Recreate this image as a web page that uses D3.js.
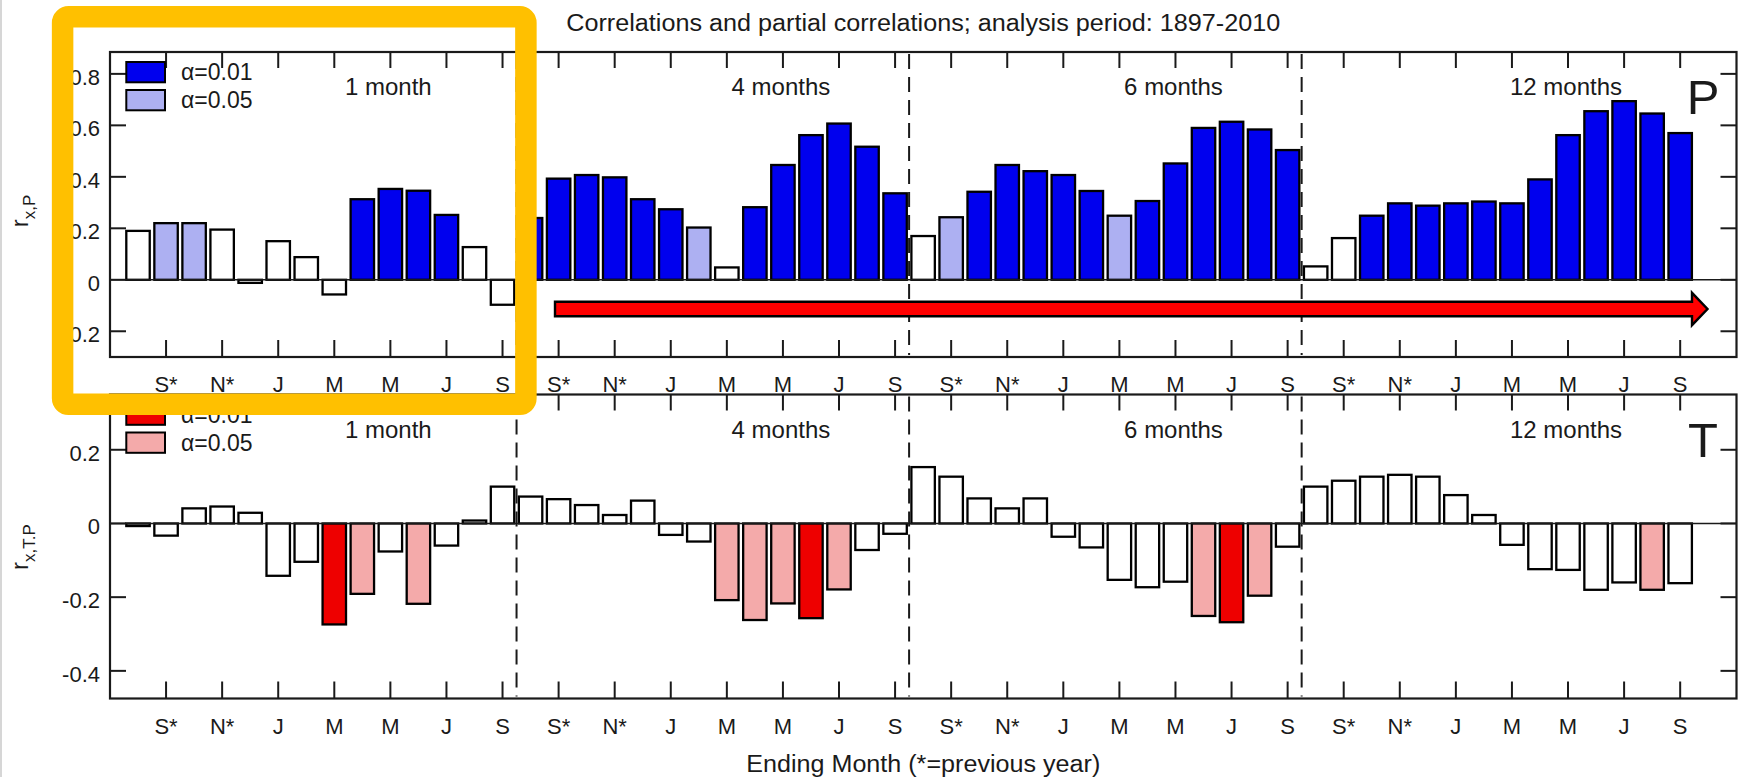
<!DOCTYPE html>
<html>
<head>
<meta charset="utf-8">
<script src="https://cdn.jsdelivr.net/npm/d3@7"></script>
<style>
  html, body { margin: 0; padding: 0; background: #ffffff; }
  svg { display: block; font-family: "Liberation Sans", Arial, Helvetica, sans-serif; }
</style>
</head>
<body>
<svg id="chart" width="1740" height="777"></svg>
<script>
// ---- data -------------------------------------------------------------
const monthLabels  = ["A*", "S*", "O*", "N*", "D*", "J", "F", "M", "A", "M", "J", "J", "A", "S"];
const windowLabels = ["1 month", "4 months", "6 months", "12 months"];
const yTicksP = [0.8, 0.6, 0.4, 0.2, 0, -0.2];
const yTicksT = [0.2, 0, -0.2, -0.4];
const legendLabels = ["\u03b1=0.01", "\u03b1=0.05"];

// correlations with precipitation, r(x,P), per aggregation window
const precip1  = [0.19, 0.22, 0.22, 0.195, -0.012, 0.15, 0.088, -0.057, 0.313, 0.353, 0.346, 0.252, 0.127, -0.097];
const precip4  = [0.24, 0.393, 0.407, 0.398, 0.313, 0.274, 0.203, 0.048, 0.282, 0.446, 0.562, 0.607, 0.517, 0.336];
const precip6  = [0.17, 0.243, 0.342, 0.446, 0.422, 0.407, 0.345, 0.249, 0.306, 0.452, 0.59, 0.614, 0.584, 0.504];
const precip12 = [0.052, 0.162, 0.249, 0.297, 0.288, 0.297, 0.304, 0.297, 0.39, 0.562, 0.655, 0.694, 0.646, 0.57];

// significance level: 0 = not significant, 1 = alpha 0.05, 2 = alpha 0.01
const precipSig1  = [0, 1, 1, 0, 0, 0, 0, 0, 2, 2, 2, 2, 0, 0];
const precipSig4  = [2, 2, 2, 2, 2, 2, 1, 0, 2, 2, 2, 2, 2, 2];
const precipSig6  = [0, 1, 2, 2, 2, 2, 2, 1, 2, 2, 2, 2, 2, 2];
const precipSig12 = [0, 0, 2, 2, 2, 2, 2, 2, 2, 2, 2, 2, 2, 2];

// partial correlations with temperature, r(x,T.P)
const temp1  = [-0.007, -0.033, 0.041, 0.046, 0.029, -0.142, -0.104, -0.274, -0.191, -0.076, -0.218, -0.06, 0.008, 0.1];
const temp4  = [0.073, 0.066, 0.05, 0.023, 0.062, -0.031, -0.049, -0.208, -0.262, -0.217, -0.257, -0.179, -0.072, -0.028];
const temp6  = [0.153, 0.127, 0.068, 0.041, 0.068, -0.036, -0.065, -0.153, -0.173, -0.158, -0.251, -0.268, -0.196, -0.063];
const temp12 = [0.1, 0.116, 0.127, 0.132, 0.127, 0.077, 0.023, -0.058, -0.124, -0.126, -0.18, -0.16, -0.18, -0.162];

const tempSig1  = [0, 0, 0, 0, 0, 0, 0, 2, 1, 0, 1, 0, 0, 0];
const tempSig4  = [0, 0, 0, 0, 0, 0, 0, 1, 1, 1, 2, 1, 0, 0];
const tempSig6  = [0, 0, 0, 0, 0, 0, 0, 0, 0, 0, 1, 2, 1, 0];
const tempSig12 = [0, 0, 0, 0, 0, 0, 0, 0, 0, 0, 0, 0, 1, 0];

// ---- layout -----------------------------------------------------------
const svg = d3.select("#chart");
const W = 1740, H = 777;
const plotLeft = 110, plotRight = 1736.5;
const nPerGroup = monthLabels.length;
const nBars = nPerGroup * windowLabels.length;
const ink = "#1a1a1a";
const fontSize = 22;

const x = d3.scaleBand()
  .domain(d3.range(nBars))
  .range([124, 1694.2])
  .padding(0);
const barW = x.bandwidth() - 4.6;

const panels = [
  {
    top: 52, bottom: 357, domain: [-0.3, 0.885], ticks: yTicksP,
    values: [].concat(precip1, precip4, precip6, precip12),
    sig: [].concat(precipSig1, precipSig4, precipSig6, precipSig12),
    colors: ["#ffffff", "#adb0f2", "#0000ee"],
    sub: "x,P", letter: "P", labelCenter: 211
  },
  {
    top: 394.5, bottom: 698.5, domain: [-0.475, 0.35], ticks: yTicksT,
    values: [].concat(temp1, temp4, temp6, temp12),
    sig: [].concat(tempSig1, tempSig4, tempSig6, tempSig12),
    colors: ["#ffffff", "#f4aaaa", "#ee0000"],
    sub: "x,T.P", letter: "T", labelCenter: 547
  }
];

// thin grey edge on the left of the figure
svg.append("rect").attr("x", 0).attr("y", 0).attr("width", 2).attr("height", H).attr("fill", "#d6d6d6");

// title
svg.append("text")
  .attr("x", (plotLeft + plotRight) / 2).attr("y", 31)
  .attr("text-anchor", "middle")
  .attr("font-size", 23).attr("fill", ink)
  .attr("textLength", 714).attr("lengthAdjust", "spacingAndGlyphs")
  .text("Correlations and partial correlations; analysis period: 1897-2010");

const tickLen = 16;
const tickIdx = d3.range(nBars).filter(i => i % 2 === 1);

panels.forEach(p => {
  const y = d3.scaleLinear().domain(p.domain).range([p.bottom, p.top]);
  const g = svg.append("g");

  // bars
  g.selectAll("rect.bar")
    .data(p.values.map((v, i) => ({ v, i, s: p.sig[i] })))
    .join("rect")
    .attr("class", "bar")
    .attr("x", d => x(d.i) + (x.bandwidth() - barW) / 2)
    .attr("y", d => Math.min(y(d.v), y(0)))
    .attr("width", barW)
    .attr("height", d => Math.abs(y(d.v) - y(0)))
    .attr("fill", d => p.colors[d.s])
    .attr("stroke", "#000")
    .attr("stroke-width", 2.3);

  // zero line
  g.append("line")
    .attr("x1", plotLeft).attr("x2", plotRight)
    .attr("y1", y(0)).attr("y2", y(0))
    .attr("stroke", ink).attr("stroke-width", 1.4);

  // dashed separators between aggregation windows
  d3.range(1, windowLabels.length).forEach(k => {
    g.append("line")
      .attr("x1", x(k * nPerGroup)).attr("x2", x(k * nPerGroup))
      .attr("y1", p.top + 2).attr("y2", p.bottom - 2)
      .attr("stroke", ink).attr("stroke-width", 2)
      .attr("stroke-dasharray", "15,8");
  });

  // y ticks (left and right, pointing inward)
  p.ticks.forEach(t => {
    g.append("line").attr("x1", plotLeft).attr("x2", plotLeft + tickLen)
      .attr("y1", y(t)).attr("y2", y(t)).attr("stroke", ink).attr("stroke-width", 2);
    g.append("line").attr("x1", plotRight - tickLen).attr("x2", plotRight)
      .attr("y1", y(t)).attr("y2", y(t)).attr("stroke", ink).attr("stroke-width", 2);
    g.append("text")
      .attr("x", 100).attr("y", y(t)).attr("dy", "0.5em")
      .attr("text-anchor", "end").attr("font-size", fontSize).attr("fill", ink)
      .text(t === 0 ? "0" : d3.format(".1f")(t).replace("\u2212", "-"));
  });

  // x ticks (bottom and top) with month labels
  tickIdx.forEach(i => {
    const cx = x(i) + x.bandwidth() / 2;
    g.append("line").attr("x1", cx).attr("x2", cx)
      .attr("y1", p.bottom).attr("y2", p.bottom - tickLen - 1)
      .attr("stroke", ink).attr("stroke-width", 2);
    g.append("line").attr("x1", cx).attr("x2", cx)
      .attr("y1", p.top).attr("y2", p.top + tickLen)
      .attr("stroke", ink).attr("stroke-width", 2);
    g.append("text")
      .attr("x", cx).attr("y", p.bottom + 35)
      .attr("text-anchor", "middle").attr("font-size", fontSize).attr("fill", ink)
      .text(monthLabels[i % nPerGroup]);
  });

  // frame
  g.append("rect")
    .attr("x", plotLeft).attr("y", p.top)
    .attr("width", plotRight - plotLeft).attr("height", p.bottom - p.top)
    .attr("fill", "none").attr("stroke", ink).attr("stroke-width", 2.2);

  // window labels
  windowLabels.forEach((lab, k) => {
    const cx = x(k * nPerGroup + 9) + x.bandwidth() / 2 - 2;
    g.append("text")
      .attr("x", cx).attr("y", p.top + 43)
      .attr("text-anchor", "middle").attr("font-size", 24).attr("fill", ink)
      .text(lab);
  });

  // panel letter
  g.append("text")
    .attr("x", 1703).attr("y", p.top + 62)
    .attr("text-anchor", "middle").attr("font-size", 49).attr("fill", ink)
    .text(p.letter);

  // legend
  [2, 1].forEach((s, j) => {
    const ly = p.top + 10 + j * 28;
    g.append("rect")
      .attr("x", 126.3).attr("y", ly)
      .attr("width", 38.7).attr("height", 20.3)
      .attr("fill", p.colors[s]).attr("stroke", "#000").attr("stroke-width", 2);
    g.append("text")
      .attr("x", 181).attr("y", ly + 10).attr("dy", "0.36em")
      .attr("font-size", 23).attr("fill", ink)
      .text(legendLabels[j]);
  });

  // y axis label r with subscript, rotated
  const yl = g.append("text")
    .attr("transform", `translate(28,${p.labelCenter}) rotate(-90)`)
    .attr("text-anchor", "middle").attr("fill", ink);
  yl.append("tspan").attr("font-size", 24).text("r");
  yl.append("tspan").attr("font-size", 17).attr("dy", 7).text(p.sub);
});

// x axis label
svg.append("text")
  .attr("x", (plotLeft + plotRight) / 2).attr("y", 772)
  .attr("text-anchor", "middle").attr("font-size", 23).attr("fill", ink)
  .attr("textLength", 354).attr("lengthAdjust", "spacingAndGlyphs")
  .text("Ending Month (*=previous year)");

// red arrow running along the precipitation panel
const arrow = { x0: 555, xHead: 1692, xTip: 1707.5, yc: 309, shaftHalf: 7.2, headHalf: 16.2 };
svg.append("path")
  .attr("d", d3.line()([
    [arrow.x0, arrow.yc - arrow.shaftHalf],
    [arrow.xHead, arrow.yc - arrow.shaftHalf],
    [arrow.xHead, arrow.yc - arrow.headHalf],
    [arrow.xTip, arrow.yc],
    [arrow.xHead, arrow.yc + arrow.headHalf],
    [arrow.xHead, arrow.yc + arrow.shaftHalf],
    [arrow.x0, arrow.yc + arrow.shaftHalf]
  ]) + "Z")
  .attr("fill", "#ff0000").attr("stroke", "#000").attr("stroke-width", 2.4)
  .attr("stroke-linejoin", "miter");

// highlight frame around the first window
svg.append("rect")
  .attr("x", 62.6).attr("y", 16.8)
  .attr("width", 463.3).attr("height", 387.5)
  .attr("rx", 6).attr("ry", 6)
  .attr("fill", "none").attr("stroke", "#ffc000").attr("stroke-width", 21.5);
</script>
</body>
</html>
